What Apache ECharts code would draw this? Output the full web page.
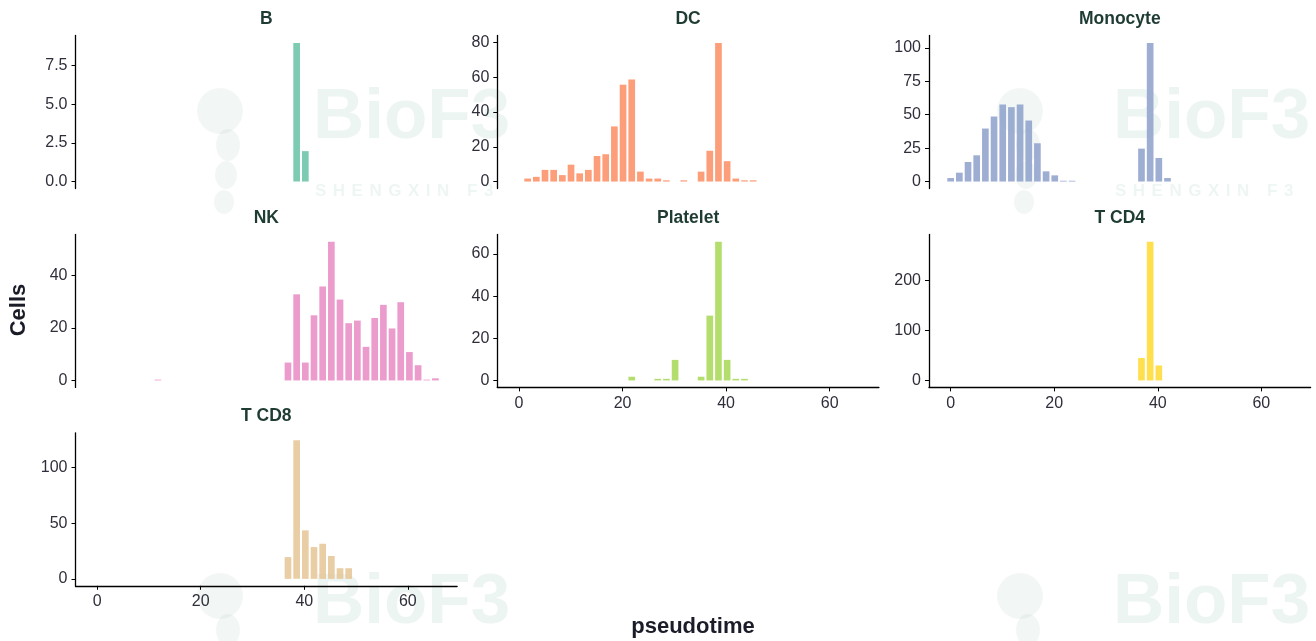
<!DOCTYPE html>
<html>
<head>
<meta charset="utf-8">
<script src="https://cdn.jsdelivr.net/npm/echarts@6/dist/echarts.min.js"></script>
<style>
html,body{margin:0;padding:0;background:#fff;}
#chart{width:1316px;height:641px;}
</style>
</head>
<body>
<div id="chart"></div>
<script>
// ---- data (counts per pseudotime bin, 40 bins) ----
const binWidth = 1.675;
const cellTypes = ['B', 'DC', 'Monocyte', 'NK', 'Platelet', 'T CD4', 'T CD8'];
const countsB        = [0,0,0,0,0,0,0,0,0,0, 0,0,0,0,0,0,0,0,0,0, 0,0,0,9,2,0,0,0,0,0, 0,0,0,0,0,0,0,0,0,0];
const countsDC       = [0,2,3,7,7,4,10,5,7,15, 16,32,56,59,6,2,2,1,0,1, 0,6,18,80,12,2,1,1,0,0, 0,0,0,0,0,0,0,0,0,0];
const countsMonocyte = [3,7,15,20,40,49,58,56,58,46, 29,8,5,0.4,0.4,0,0,0,0,0, 0,0,25,104,18,3,0,0,0,0, 0,0,0,0,0,0,0,0,0,0];
const countsNK       = [0,0,0,0,0,0,0,0.4,0,0, 0,0,0,0,0,0,0,0,0,0, 0,0,7,33,7,25,36,53,31,22, 23,13,24,29,20,30,11,6,0.4,1];
const countsPlatelet = [0,0,0,0,0,0,0,0,0,0, 0,0,0,2,0,0,1,1,10,0, 0,2,31,66,10,1,1,0,0,0, 0,0,0,0,0,0,0,0,0,0];
const countsTCD4     = [0,0,0,0,0,0,0,0,0,0, 0,0,0,0,0,0,0,0,0,0, 0,0,46,279,31,0,0,0,0,0, 0,0,0,0,0,0,0,0,0,0];
const countsTCD8     = [0,0,0,0,0,0,0,0,0,0, 0,0,0,0,0,0,0,0,0,0, 0,0,20,125,44,29,32,21,10,10, 0,0,0,0,0,0,0,0,0,0];
const yTicksB        = [0, 2.5, 5, 7.5];
const yTicksDC       = [0, 20, 40, 60, 80];
const yTicksMonocyte = [0, 25, 50, 75, 100];
const yTicksNK       = [0, 20, 40];
const yTicksPlatelet = [0, 20, 40, 60];
const yTicksTCD4     = [0, 100, 200];
const yTicksTCD8     = [0, 50, 100];
const xTicks = [0, 20, 40, 60];
const colors = ['#66C2A5', '#FC8D62', '#8DA0CB', '#E78AC3', '#A6D854', '#FFD92F', '#E5C494'];

const allCounts = [countsB, countsDC, countsMonocyte, countsNK, countsPlatelet, countsTCD4, countsTCD8];
const allYTicks = [yTicksB, yTicksDC, yTicksMonocyte, yTicksNK, yTicksPlatelet, yTicksTCD4, yTicksTCD8];

// ---- layout ----
const colLeft = [75.5, 497.3, 929];
const colWidth = 381.6;
const rowTop = [35.5, 234.4, 432.8];
const rowHeight = 153;
const bottomPanels = [4, 5, 6];
const nBins = countsB.length;
const xMin = -binWidth / 2 - (nBins * binWidth) * 0.05;
const xMax = (nBins - 0.5) * binWidth + (nBins * binWidth) * 0.05;

const FONT = '"Liberation Sans", Arial, sans-serif';
const tickColor = '#2e2f3a';
const grid = [], xAxis = [], yAxis = [], series = [], graphics = [];

cellTypes.forEach((name, i) => {
  const r = Math.floor(i / 3), c = i % 3;
  const counts = allCounts[i];
  const maxV = Math.max(...counts);
  const isBottom = bottomPanels.includes(i);
  grid.push({ left: colLeft[c], top: rowTop[r], width: colWidth, height: rowHeight, containLabel: false });
  xAxis.push({
    type: 'value', gridIndex: i, min: xMin, max: xMax,
    splitLine: { show: false },
    axisLine: { show: isBottom, onZero: false, lineStyle: { color: '#000', width: 1.3 } },
    axisTick: { show: isBottom, length: 4, customValues: xTicks, lineStyle: { color: '#000', width: 1 } },
    axisLabel: { show: isBottom, customValues: xTicks, margin: 8, fontSize: 16, color: tickColor, fontFamily: FONT }
  });
  const dec = allYTicks[i].some(v => v % 1 !== 0);
  yAxis.push({
    type: 'value', gridIndex: i, min: -0.05 * maxV, max: 1.05 * maxV,
    splitLine: { show: false },
    axisLine: { show: true, onZero: false, lineStyle: { color: '#000', width: 1.3 } },
    axisTick: { show: true, length: 4, customValues: allYTicks[i], lineStyle: { color: '#000', width: 1 } },
    axisLabel: { show: true, customValues: allYTicks[i], margin: 8, fontSize: 16, color: tickColor,
      fontFamily: FONT,
      formatter: v => dec ? v.toFixed(1) : String(v) }
  });
  const data = [];
  counts.forEach((v, k) => { if (v > 0) data.push([k * binWidth, v]); });
  series.push({
    type: 'custom', xAxisIndex: i, yAxisIndex: i, data: data,
    renderItem: (params, api) => {
      const x = api.value(0), v = api.value(1);
      const p0 = api.coord([x - binWidth / 2, v]);
      const p1 = api.coord([x + binWidth / 2, 0]);
      let h = p1[1] - p0[1] - 0.5;
      if (h < 0.8) h = 0.8;
      return { type: 'rect', shape: { x: p0[0] + 1, y: p1[1] - h, width: p1[0] - p0[0] - 2, height: h },
        style: { fill: colors[i], opacity: 0.85 } };
    }
  });
  graphics.push({ type: 'text', x: colLeft[c] + colWidth / 2, y: rowTop[r] - 16.5, z: 10,
    style: { text: name, fill: '#1e3b34', font: 'bold 17.5px ' + FONT, align: 'center', verticalAlign: 'middle' } });
});

// axis titles
graphics.push({ type: 'text', x: 693, y: 627, z: 10,
  style: { text: 'pseudotime', fill: '#1a1c28', font: 'bold 22px ' + FONT, align: 'center', verticalAlign: 'middle' } });
graphics.push({ type: 'text', x: 19, y: 310, rotation: Math.PI / 2, z: 10,
  style: { text: 'Cells', fill: '#1a1c28', font: 'bold 22px ' + FONT, align: 'center', verticalAlign: 'middle' } });

// faint watermarks
const measureCtx = document.createElement('canvas').getContext('2d');
measureCtx.font = 'bold 17px ' + FONT;
const wmSpots = [[313, 83, true], [1113, 83, true], [313, 568, false], [1113, 568, false]];
wmSpots.forEach(([x, y, sub]) => {
  graphics.push({ type: 'text', x: x, y: y, z: -1, silent: true,
    style: { text: 'BioF3', fill: 'rgba(200,225,214,0.32)', font: 'bold 71px ' + FONT, align: 'left', verticalAlign: 'top' } });
  if (sub) {
    let cx = x + 2;
    'SHENGXIN F3'.split('').forEach((ch) => {
      graphics.push({ type: 'text', x: cx, y: y + 100, z: -1, silent: true,
        style: { text: ch, fill: 'rgba(200,225,214,0.3)', font: 'bold 17px ' + FONT, align: 'left', verticalAlign: 'top' } });
      cx += measureCtx.measureText(ch).width + 6.5;
    });
  }
  const lx = x - 93, ly = y;
  const wm = 'rgba(175,200,195,0.16)';
  graphics.push({ type: 'circle', z: -1, silent: true, shape: { cx: lx, cy: ly + 28, r: 23 }, style: { fill: wm } });
  graphics.push({ type: 'ellipse', z: -1, silent: true, shape: { cx: lx + 8, cy: ly + 62, rx: 12, ry: 16 }, style: { fill: wm } });
  graphics.push({ type: 'ellipse', z: -1, silent: true, shape: { cx: lx + 6, cy: ly + 92, rx: 11, ry: 14 }, style: { fill: wm } });
  graphics.push({ type: 'ellipse', z: -1, silent: true, shape: { cx: lx + 4, cy: ly + 119, rx: 10, ry: 12 }, style: { fill: wm } });
});

const chart = echarts.init(document.getElementById('chart'), null, { renderer: 'canvas' });
chart.setOption({
  animation: false,
  backgroundColor: '#fff',
  grid: grid, xAxis: xAxis, yAxis: yAxis, series: series,
  graphic: { elements: graphics }
});
</script>
</body>
</html>
